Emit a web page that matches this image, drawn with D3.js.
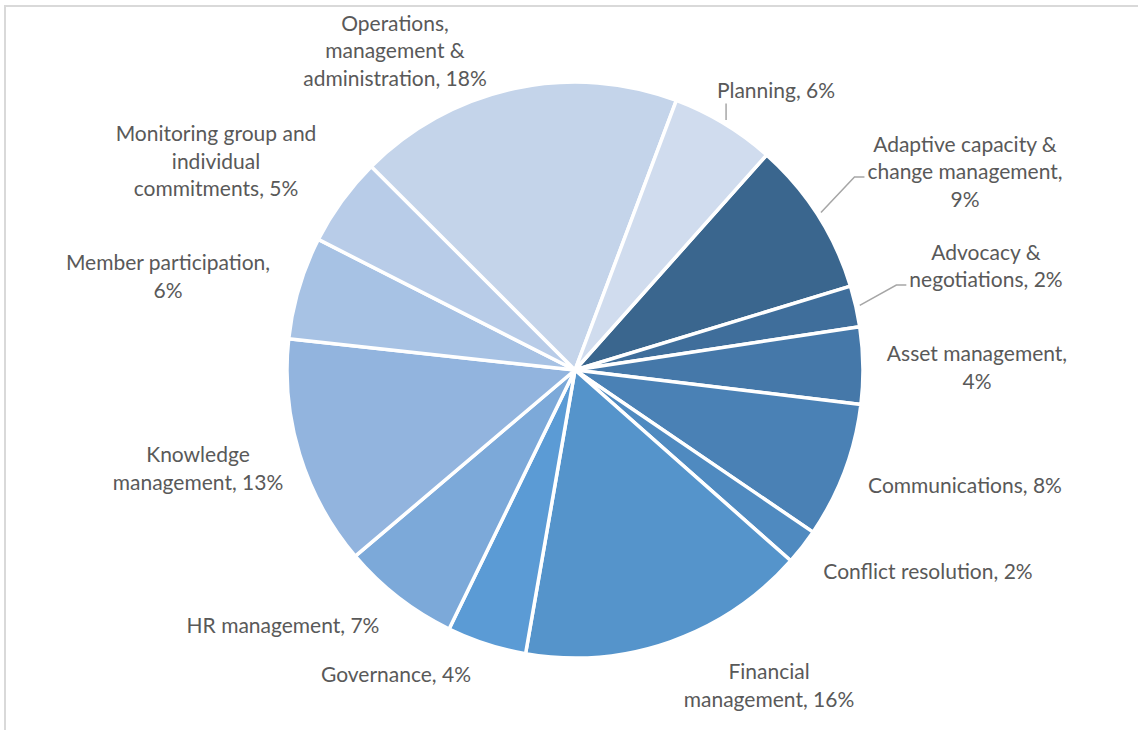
<!DOCTYPE html>
<html>
<head>
<meta charset="utf-8">
<script src="https://cdn.jsdelivr.net/npm/d3@7"></script>
<style>
  html, body { margin: 0; padding: 0; background: #ffffff; }
  svg { display: block; }
  .lbl { font-family: Lato, "Open Sans", sans-serif; fill: #595959; }
</style>
</head>
<body>
<svg id="chart" width="1138" height="730"></svg>
<script>
// Share of items per capacity area (percent)
const categories = [
  "Adaptive capacity & change management",
  "Advocacy & negotiations",
  "Asset management",
  "Communications",
  "Conflict resolution",
  "Financial management",
  "Governance",
  "HR management",
  "Knowledge management",
  "Member participation",
  "Monitoring group and individual commitments",
  "Operations, management & administration",
  "Planning"
];
const values = [8.7, 2.3, 4.3, 7.6, 2.0, 16.2, 4.45, 6.6, 12.9, 5.75, 5.0, 18.2, 5.85];

// Monochromatic blue palette, darkest to lightest
const colors = [
  "#3a668e", "#3f6e9b", "#4578a9", "#4a81b5", "#4f8ac0", "#5594cb",
  "#5b9bd5", "#7ca9d9", "#92b4de", "#a7c2e4", "#b8cce8", "#c4d4ea", "#d0dcee"
];

// Wrapped label lines; "{p}" is replaced by the rounded percentage
const labelLines = [
  ["Adaptive capacity &", "change management,", "{p}"],
  ["Advocacy &", "negotiations, {p}"],
  ["Asset management,", "{p}"],
  ["Communications, {p}"],
  ["Conflict resolution, {p}"],
  ["Financial", "management, {p}"],
  ["Governance, {p}"],
  ["HR management, {p}"],
  ["Knowledge", "management, {p}"],
  ["Member participation,", "{p}"],
  ["Monitoring group and", "individual", "commitments, {p}"],
  ["Operations,", "management &", "administration, {p}"],
  ["Planning, {p}"]
];

// Label block placement relative to the pie centre: [centre x offset, first baseline offset]
const labelPlace = [
  [390, -218.5], [411, -110.5], [402, -9], [390, 123], [353, 209],
  [194, 309], [-179, 312], [-292, 263], [-377, 92], [-407, -100],
  [-359, -229], [-180, -339.5], [201, -272.5]
];
// Which labels get a leader line, and its style
const leaderKind = { 0: "elbow", 1: "elbow", 12: "vertical" };

const width = 1138, height = 730;
const cx = 575, cy = 370, radius = 288;
const startDeg = 41.7;
const fontSize = 21, lineGap = 27.5;

const svg = d3.select("#chart");

// chart frame (top and left edges visible)
svg.append("rect")
  .attr("x", 5).attr("y", 6)
  .attr("width", width + 20).attr("height", height + 20)
  .attr("fill", "none").attr("stroke", "#d9d9d9").attr("stroke-width", 2);

const data = categories.map((c, i) => ({ name: c, value: values[i], idx: i }));
const total = d3.sum(values);
const pct = v => Math.round(v / total * 100) + "%";

const start = startDeg * Math.PI / 180;
const pie = d3.pie().sort(null).value(d => d.value)
  .startAngle(start).endAngle(start + 2 * Math.PI);
const arcs = pie(data);
const arc = d3.arc().innerRadius(0).outerRadius(radius);

const g = svg.append("g").attr("transform", `translate(${cx},${cy})`);

g.selectAll("path.slice")
  .data(arcs)
  .join("path")
  .attr("class", "slice")
  .attr("d", arc)
  .attr("fill", d => colors[d.data.idx])
  .attr("stroke", "#ffffff")
  .attr("stroke-width", 3.5)
  .attr("stroke-linejoin", "round");

// labels
const labels = g.selectAll("g.label")
  .data(arcs)
  .join("g")
  .attr("class", "label");

labels.each(function(d) {
  const i = d.data.idx;
  const [ox, oy] = labelPlace[i];
  const t = d3.select(this).append("text")
    .attr("class", "lbl")
    .attr("font-size", fontSize)
    .attr("text-anchor", "middle");
  labelLines[i].forEach((ln, k) => {
    t.append("tspan")
      .attr("x", ox)
      .attr("y", oy + k * lineGap)
      .text(ln.replace("{p}", pct(d.data.value)));
  });

  const kind = leaderKind[i];
  if (!kind) return;
  const mid = (d.startAngle + d.endAngle) / 2;
  const r0 = radius + 4;
  const p0 = [Math.sin(mid) * r0, -Math.cos(mid) * r0];
  let pts;
  if (kind === "vertical") {
    pts = [p0, [p0[0], oy + 6]];
  } else {
    // attach to the widest line, at its left edge
    const spans = t.selectAll("tspan").nodes();
    let wi = 0, wMax = 0;
    spans.forEach((s, k) => { const w = s.getComputedTextLength(); if (w > wMax) { wMax = w; wi = k; } });
    const ey = oy + wi * lineGap - 2;
    const ex = ox - wMax / 2 - 3;
    pts = [p0, [ex - 10, ey], [ex, ey]];
  }
  d3.select(this).insert("path", "text")
    .attr("d", d3.line()(pts))
    .attr("fill", "none")
    .attr("stroke", "#a6a6a6")
    .attr("stroke-width", 1.5);
});
</script>
</body>
</html>
